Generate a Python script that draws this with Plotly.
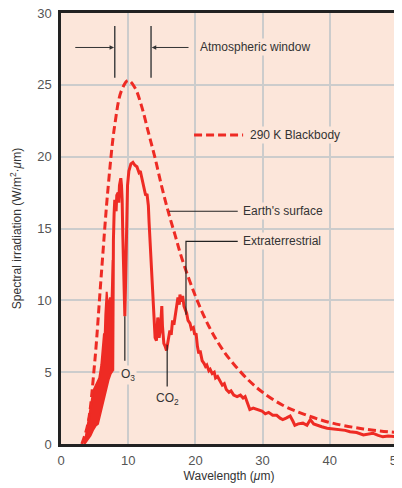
import plotly.graph_objects as go

# ---- data ----
# 290 K blackbody (dashed)
bb_x = [3.1, 4, 5, 6, 7, 8, 9, 10, 11, 12, 13, 14, 15, 16, 17, 18, 20, 22, 24, 26, 28, 30, 33, 36, 40, 45, 50]
bb_y = [0.0, 1.4, 5.6, 11.8, 17.8, 22.2, 24.6, 25.3, 24.8, 23.5, 21.7, 19.9, 17.9, 16.1, 14.5, 12.9,
        10.3, 8.2, 6.6, 5.4, 4.4, 3.6, 2.7, 2.1, 1.5, 1.05, 0.8]

# noisy absorption band 3.5-7.7 um (lower / upper envelopes)
band_lo_x = [3.5, 4.0, 4.4, 4.8, 5.2, 5.5, 5.8, 6.1, 6.4, 6.8, 7.1, 7.4, 7.7]
band_lo_y = [0.0, 0.3, 0.6, 1.0, 1.3, 1.4, 2.0, 2.6, 3.3, 4.0, 4.5, 4.9, 5.1]
band_hi_x = [3.5, 3.9, 4.2, 4.5, 4.8, 5.1, 5.4, 5.7, 6.0, 6.2, 6.4, 6.5, 6.6, 6.8, 6.9, 7.1, 7.3, 7.5, 7.7]
band_hi_y = [0.0, 1.0, 1.9, 2.8, 3.7, 4.0, 4.3, 4.6, 5.5, 6.6, 7.7, 7.5, 9.0, 10.6, 10.0, 9.8, 10.2, 9.6, 12.8]

# Earth's surface spectrum beyond the band
surf_x = [7.7, 7.75, 7.8, 7.9, 8.0, 8.2, 8.3, 8.5, 8.6, 8.7, 8.9, 9.0, 9.1, 9.2, 9.3, 9.4, 9.5, 9.6,
          9.7, 9.8, 9.9, 10.1, 10.4, 10.7, 11.0, 11.3, 11.6, 11.8, 12.0, 12.2, 12.4, 12.6, 12.8, 13.0,
          13.1, 13.2, 13.35, 13.5, 13.7, 13.85, 14.0, 14.2, 14.4, 14.5, 14.6, 14.8, 15.0, 15.1, 15.3,
          15.5, 15.7, 15.8, 16.0, 16.2, 16.4, 16.6, 16.8, 17.0, 17.2, 17.4, 17.6, 17.7, 17.9, 18.1,
          18.3, 18.5, 18.7, 18.9, 19.2, 19.4, 19.7, 19.9, 20.1, 20.3, 20.5, 20.7, 21.0, 21.3, 21.5,
          21.7, 22.0, 22.2, 22.5, 22.8, 23.0, 23.3, 23.7, 24.0, 24.3, 24.6, 25.0, 25.3, 25.7, 26.2,
          26.7, 27.1, 27.4, 27.8, 28.1, 28.6, 29.3, 29.9, 30.4, 30.9, 31.5, 32.1, 32.6, 33.0, 33.5,
          34.1, 34.5, 34.8, 35.3, 36.0, 36.6, 37.1, 37.6, 38.1, 38.8, 39.6, 40.5, 41.5, 42.3, 43.0,
          44.0, 45.0, 45.8, 46.4, 47.2, 47.9, 48.7, 49.4, 50.0]
surf_y = [5.1, 12.8, 14.2, 16.0, 17.0, 16.2, 17.3, 17.5, 16.8, 18.0, 18.5, 18.0, 17.0, 14.5, 12.0, 9.5, 8.9, 11.0,
          14.0, 16.5, 18.0, 19.0, 19.5, 19.6, 19.4, 19.3, 18.9, 19.0, 18.6, 18.2, 17.8, 17.3, 17.4, 16.6,
          15.5, 14.5, 13.0, 12.0, 10.3, 8.5, 7.4, 7.2, 8.8, 8.5, 7.4, 8.0, 9.6, 8.2, 7.0,
          6.8, 6.5, 6.8, 7.3, 7.9, 7.6, 8.6, 8.3, 9.0, 9.4, 10.2, 9.7, 10.4, 9.9, 10.3,
          9.6, 9.3, 9.1, 8.6, 8.4, 8.0, 8.1, 7.6, 7.7, 6.8, 6.3, 6.5, 5.8, 5.6, 5.4,
          5.5, 5.1, 5.2, 4.9, 5.0, 4.6, 4.7, 4.4, 4.1, 4.2, 3.8, 3.6, 3.7, 3.4, 3.3,
          3.4, 3.2, 3.3, 2.7, 2.4, 2.5, 2.4, 2.3, 2.1, 2.2, 2.0, 2.0, 1.8, 1.7, 1.8,
          1.95, 1.6, 1.3, 1.4, 1.45, 1.3, 1.7, 1.4, 1.3, 1.2, 1.1, 1.05, 1.0, 0.95, 0.85,
          0.8, 0.63, 0.7, 0.75, 0.6, 0.5, 0.55, 0.5, 0.5]

x_ticks = [0, 10, 20, 30, 40, 50]
y_ticks = [0, 5, 10, 15, 20, 25, 30]

RED = "#ee2b24"
BG = "#fce6da"
INK = "#333333"
TXT_FONT = "Liberation Sans Narrow, Arial Narrow, Liberation Sans, Arial, sans-serif"

fig = go.Figure()

# noisy band as filled polygon
fig.add_trace(go.Scatter(
    x=band_lo_x + band_hi_x[::-1], y=band_lo_y + band_hi_y[::-1],
    mode="lines", fill="toself", fillcolor=RED,
    line=dict(color=RED, width=2), hoverinfo="skip", showlegend=False))

fig.add_trace(go.Scatter(x=surf_x, y=surf_y, mode="lines",
                         line=dict(color=RED, width=3), showlegend=False))

fig.add_trace(go.Scatter(x=bb_x, y=bb_y, mode="lines", line_shape="spline",
                         line=dict(color=RED, width=3, dash="8px,4px"), showlegend=False))

shapes = []
ann = []

# atmospheric window markers
for xv in [8.0, 13.4]:
    shapes.append(dict(type="line", xref="x", yref="y", x0=xv, x1=xv, y0=25.5, y1=29.1,
                       line=dict(color="#444444", width=1.5)))
ann.append(dict(x=7.9, y=27.6, ax=1.9, ay=27.6, xref="x", yref="y", axref="x", ayref="y",
                showarrow=True, arrowhead=2, arrowsize=0.9, arrowwidth=1, arrowcolor=INK, text=""))
ann.append(dict(x=13.5, y=27.6, ax=19.2, ay=27.6, xref="x", yref="y", axref="x", ayref="y",
                showarrow=True, arrowhead=2, arrowsize=0.9, arrowwidth=1, arrowcolor=INK, text=""))
ann.append(dict(x=20.4, y=27.6, xref="x", yref="y", text="Atmospheric window", showarrow=False,
                xanchor="left", yanchor="middle", bgcolor=BG,
                font=dict(family=TXT_FONT, size=12, color=INK)))

# legend (manual)
shapes.append(dict(type="line", xref="x", yref="y", x0=19.8, x1=27.1, y0=21.5, y1=21.5,
                   line=dict(color=RED, width=3, dash="8px,4px")))
ann.append(dict(x=27.9, y=21.5, xref="x", yref="y", text="290 K Blackbody", showarrow=False,
                xanchor="left", yanchor="middle", bgcolor=BG,
                font=dict(family=TXT_FONT, size=12, color=INK)))

# Earth's surface leader
shapes.append(dict(type="line", xref="x", yref="y", x0=16.1, x1=26.3, y0=16.2, y1=16.2,
                   line=dict(color="#222222", width=1.2)))
ann.append(dict(x=26.8, y=16.2, xref="x", yref="y", text="Earth's surface", showarrow=False,
                xanchor="left", yanchor="middle", bgcolor=BG,
                font=dict(family=TXT_FONT, size=12, color=INK)))

# Extraterrestrial leader
shapes.append(dict(type="path", xref="x", yref="y",
                   path="M 18.6 9.0 L 18.6 14.1 L 26.3 14.1",
                   line=dict(color="#222222", width=1.2)))
ann.append(dict(x=26.8, y=14.1, xref="x", yref="y", text="Extraterrestrial", showarrow=False,
                xanchor="left", yanchor="middle", bgcolor=BG,
                font=dict(family=TXT_FONT, size=12, color=INK)))

# O3 and CO2 markers
shapes.append(dict(type="line", xref="x", yref="y", x0=9.5, x1=9.5, y0=8.9, y1=5.8,
                   line=dict(color="#222222", width=1.2)))
ann.append(dict(x=10.0, y=4.8, xref="x", yref="y", text="O<sub>3</sub>", showarrow=False,
                xanchor="center", yanchor="middle", bgcolor=BG,
                font=dict(family=TXT_FONT, size=12, color=INK)))
shapes.append(dict(type="line", xref="x", yref="y", x0=15.8, x1=15.8, y0=6.9, y1=4.0,
                   line=dict(color="#222222", width=1.2)))
ann.append(dict(x=15.8, y=3.1, xref="x", yref="y", text="CO<sub>2</sub>", showarrow=False,
                xanchor="center", yanchor="middle", bgcolor=BG,
                font=dict(family=TXT_FONT, size=12, color=INK)))

fig.update_layout(
    width=394, height=480,
    margin=dict(l=53, r=5, t=5, b=44),
    paper_bgcolor="white", plot_bgcolor=BG,
    shapes=shapes, annotations=ann,
    font=dict(family="Liberation Sans, Arial, sans-serif", size=12, color="#555555"),
)
fig.update_xaxes(range=[0, 50], tickvals=x_ticks, showgrid=True, gridcolor="#cccccc", gridwidth=1.5,
                 zeroline=False, showline=True, linecolor="#222222", linewidth=2.5, mirror=True,
                 ticks="", ticklabelstandoff=3, automargin=False, ticklabeloverflow="allow",
                 tickfont=dict(size=13, color="#555555"),
                 title=dict(text="Wavelength (<i>μ</i>m)", standoff=5,
                            font=dict(family=TXT_FONT, size=12, color=INK)))
fig.update_yaxes(range=[0, 30], tickvals=y_ticks, showgrid=True, gridcolor="#cccccc", gridwidth=1.5,
                 zeroline=False, showline=True, linecolor="#222222", linewidth=2.5, mirror=True,
                 ticks="", ticklabelstandoff=4, automargin=False, ticklabeloverflow="allow",
                 tickfont=dict(size=13, color="#555555"),
                 title=dict(text="Spectral irradiation (W/m<sup>2</sup>·<i>μ</i>m)", standoff=13,
                            font=dict(family=TXT_FONT, size=12, color=INK)))

fig.write_html("out.html")
